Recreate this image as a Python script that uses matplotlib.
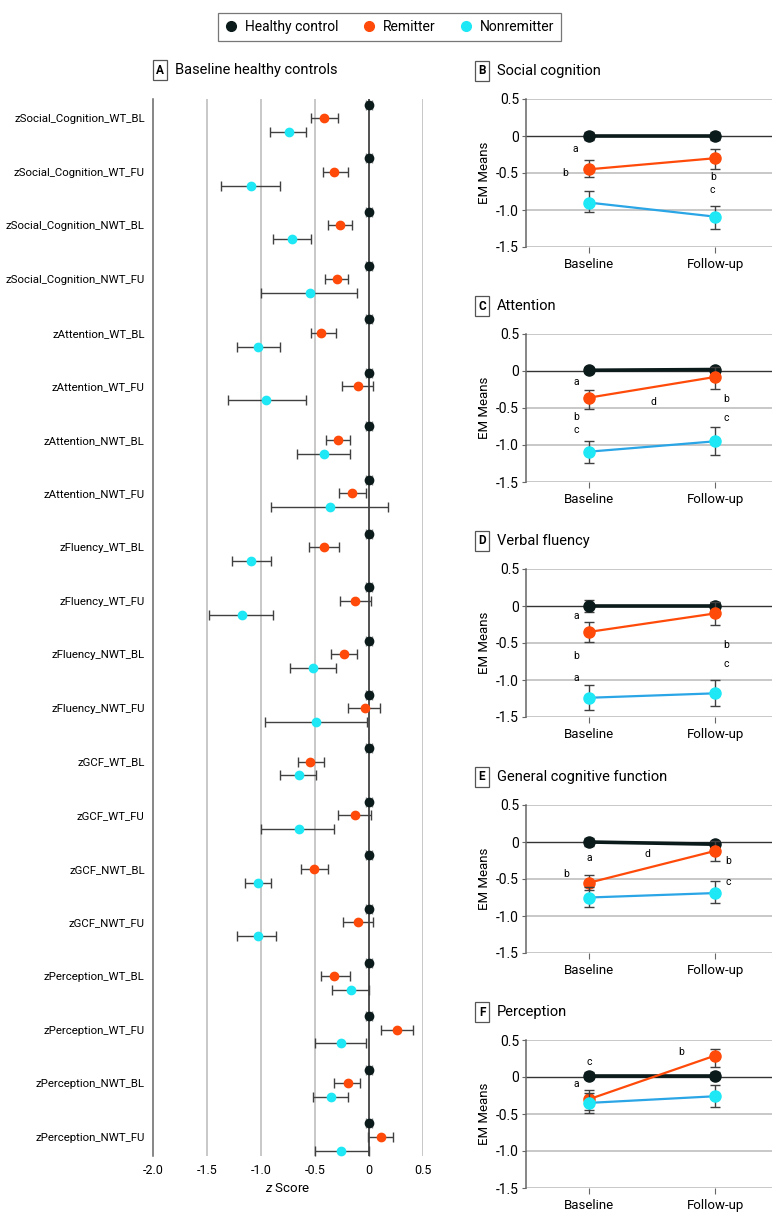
import matplotlib
matplotlib.use("Agg")
import matplotlib.pyplot as plt
from matplotlib.lines import Line2D

plt.rcParams['font.family'] = ['Roboto', 'DejaVu Sans']
plt.rcParams['axes.unicode_minus'] = False
plt.rcParams['mathtext.fontset'] = 'custom'
plt.rcParams['mathtext.rm'] = 'Roboto'
plt.rcParams['mathtext.it'] = 'Roboto:italic'

HC_COL = '#0b1a1a'
REM_COL = '#ff4a0a'
NON_COL = '#1ee8f5'
NON_LINE = '#2aa5e6'
GRID = '#c4c4c4'
ERR = '#404040'

# ---- panel A data: z scores vs healthy controls ----
row_labels = ['zSocial_Cognition_WT_BL', 'zSocial_Cognition_WT_FU', 'zSocial_Cognition_NWT_BL',
              'zSocial_Cognition_NWT_FU', 'zAttention_WT_BL', 'zAttention_WT_FU',
              'zAttention_NWT_BL', 'zAttention_NWT_FU', 'zFluency_WT_BL', 'zFluency_WT_FU',
              'zFluency_NWT_BL', 'zFluency_NWT_FU', 'zGCF_WT_BL', 'zGCF_WT_FU', 'zGCF_NWT_BL',
              'zGCF_NWT_FU', 'zPerception_WT_BL', 'zPerception_WT_FU', 'zPerception_NWT_BL',
              'zPerception_NWT_FU']
hc_mean = [0.0] * 20
hc_err = [0.03] * 20
rem_mean = [-0.42, -0.32, -0.27, -0.30, -0.44, -0.10, -0.29, -0.16, -0.42, -0.13,
            -0.23, -0.04, -0.55, -0.13, -0.51, -0.10, -0.32, 0.26, -0.19, 0.11]
rem_lo = [-0.54, -0.43, -0.38, -0.41, -0.54, -0.25, -0.40, -0.28, -0.56, -0.27,
          -0.35, -0.19, -0.66, -0.29, -0.63, -0.24, -0.44, 0.11, -0.32, -0.01]
rem_hi = [-0.29, -0.19, -0.16, -0.19, -0.31, 0.04, -0.18, -0.03, -0.28, 0.02,
          -0.11, 0.10, -0.42, 0.02, -0.38, 0.04, -0.18, 0.41, -0.08, 0.22]
non_mean = [-0.74, -1.09, -0.71, -0.55, -1.03, -0.95, -0.42, -0.36, -1.09, -1.18,
            -0.52, -0.49, -0.65, -0.65, -1.03, -1.03, -0.17, -0.26, -0.35, -0.26]
non_lo = [-0.92, -1.37, -0.89, -1.00, -1.22, -1.31, -0.67, -0.91, -1.27, -1.48,
          -0.73, -0.96, -0.82, -1.00, -1.15, -1.22, -0.34, -0.50, -0.52, -0.50]
non_hi = [-0.58, -0.82, -0.54, -0.11, -0.82, -0.58, -0.18, 0.18, -0.91, -0.89,
          -0.31, -0.02, -0.49, -0.32, -0.91, -0.86, 0.0, -0.03, -0.19, 0.0]
z_ticks = [-2.0, -1.5, -1.0, -0.5, 0, 0.5]
z_ticklabels = ['-2.0', '-1.5', '-1.0', '-0.5', '0', '0.5']

# ---- panels B-F data: EM means at baseline / follow-up ----
time_labels = ['Baseline', 'Follow-up']
panel_letters = ['B', 'C', 'D', 'E', 'F']
panel_titles = ['Social cognition', 'Attention', 'Verbal fluency',
                'General cognitive function', 'Perception']
hc_em = [[0.0, 0.0], [0.01, 0.02], [0.0, 0.0], [0.0, -0.03], [0.02, 0.02]]
hc_em_err = [[0.06, 0.06], [0.04, 0.04], [0.08, 0.05], [0.05, 0.04], [0.05, 0.05]]
rem_em = [[-0.45, -0.30], [-0.36, -0.08], [-0.35, -0.10], [-0.55, -0.12], [-0.30, 0.29]]
rem_em_lo = [[-0.56, -0.44], [-0.51, -0.24], [-0.49, -0.26], [-0.65, -0.26], [-0.44, 0.14]]
rem_em_hi = [[-0.32, -0.17], [-0.26, 0.05], [-0.22, 0.06], [-0.44, 0.01], [-0.18, 0.38]]
non_em = [[-0.90, -1.09], [-1.09, -0.95], [-1.24, -1.18], [-0.75, -0.69], [-0.35, -0.26]]
non_em_lo = [[-1.03, -1.25], [-1.25, -1.13], [-1.40, -1.35], [-0.88, -0.83], [-0.48, -0.41]]
non_em_hi = [[-0.74, -0.94], [-0.94, -0.76], [-1.07, -1.00], [-0.61, -0.53], [-0.22, -0.11]]
em_ticks = [0.5, 0, -0.5, -1.0, -1.5]
em_ticklabels = ['0.5', '0', '-0.5', '-1.0', '-1.5']
# significance letters (x, y, letter)
sig_marks = [
    [(-0.11, -0.18, 'a'), (-0.19, -0.50, 'b'), (0.98, -0.55, 'b'), (0.98, -0.73, 'c')],
    [(-0.10, -0.15, 'a'), (0.51, -0.42, 'd'), (-0.10, -0.62, 'b'), (-0.10, -0.80, 'c'),
     (1.09, -0.38, 'b'), (1.09, -0.63, 'c')],
    [(-0.10, -0.14, 'a'), (-0.10, -0.68, 'b'), (-0.10, -0.97, 'a'), (1.09, -0.53, 'b'),
     (1.09, -0.78, 'c')],
    [(0.0, -0.22, 'a'), (0.46, -0.16, 'd'), (-0.185, -0.43, 'b'), (1.10, -0.25, 'b'),
     (1.10, -0.54, 'c')],
    [(0.005, 0.20, 'c'), (-0.10, -0.10, 'a'), (0.73, 0.34, 'b')],
]

W, H = 780, 1220
fig = plt.figure(figsize=(W / 100, H / 100), dpi=100)


def px_axes(left, top, right, bottom):
    return fig.add_axes([left / W, 1 - bottom / H, (right - left) / W, (bottom - top) / H])


def boxed_title(x, y, letter, title):
    fig.text(x / W, 1 - y / H, letter, fontsize=8.5, fontweight='bold', ha='center', va='center',
             bbox=dict(boxstyle='square,pad=0.3', fc='white', ec='#555555', lw=0.9))
    fig.text((x + 15) / W, 1 - y / H, title, fontsize=10.5, ha='left', va='center')


# ---------------- panel A ----------------
axA = px_axes(153, 99, 423, 1156)
rows = list(range(len(row_labels)))
axA.set_xlim(-2.0, 0.5)
axA.set_ylim(len(rows) - 1 + 0.36, -0.36)
for g in [-1.5, -1.0, -0.5, 0.5]:
    axA.axvline(g, color=GRID, lw=1.3, zorder=0)
axA.axvline(0, color='#222222', lw=1.1, zorder=1)

y_hc = [r - 0.25 for r in rows]
y_rem = [r for r in rows]
y_non = [r + 0.26 for r in rows]
axA.errorbar(hc_mean, y_hc, xerr=hc_err, fmt='o', color=HC_COL, ms=6, ecolor='#888888',
             elinewidth=1, capsize=3.5, zorder=4)
axA.errorbar(rem_mean, y_rem,
             xerr=[[m - l for m, l in zip(rem_mean, rem_lo)], [h - m for m, h in zip(rem_mean, rem_hi)]],
             fmt='o', color=REM_COL, ms=6, ecolor=ERR, elinewidth=1, capsize=3.5, zorder=4)
axA.errorbar(non_mean, y_non,
             xerr=[[m - l for m, l in zip(non_mean, non_lo)], [h - m for m, h in zip(non_mean, non_hi)]],
             fmt='o', color=NON_COL, ms=6, ecolor=ERR, elinewidth=1, capsize=3.5, zorder=4)

axA.set_yticks(rows)
axA.set_yticklabels(row_labels, fontsize=8.2)
axA.set_xticks(z_ticks)
axA.set_xticklabels(z_ticklabels, fontsize=9)
axA.tick_params(axis='both', length=0, pad=6)
for s in ['top', 'right', 'bottom']:
    axA.spines[s].set_visible(False)
axA.spines['left'].set_color('#666666')
axA.spines['left'].set_linewidth(1.1)
axA.set_xlabel(r'$\mathit{z}$ Score', fontsize=9.5, labelpad=3)

boxed_title(160, 70, 'A', 'Baseline healthy controls')

# ---------------- panels B-F ----------------
title_y = [71, 306, 541, 777, 1012]
x_pos = [0, 1]
for i in range(5):
    ty = title_y[i]
    ax = px_axes(526, ty + 28, 772, ty + 176)
    ax.set_xlim(-0.5, 1.45)
    ax.set_ylim(-1.5, 0.5)
    for g in [0.5, -0.5, -1.0, -1.5]:
        ax.axhline(g, color=GRID, lw=1.3, zorder=0)
    ax.axhline(0, color='#333333', lw=1.0, zorder=0)

    ax.errorbar(x_pos, hc_em[i], yerr=hc_em_err[i], fmt='-o', color=HC_COL, lw=2.6, ms=8,
                ecolor=ERR, elinewidth=1, capsize=3.5, zorder=3)
    ax.errorbar(x_pos, rem_em[i],
                yerr=[[m - l for m, l in zip(rem_em[i], rem_em_lo[i])],
                      [h - m for m, h in zip(rem_em[i], rem_em_hi[i])]],
                fmt='-o', color=REM_COL, lw=1.6, ms=8, ecolor=ERR, elinewidth=1, capsize=3.5, zorder=4)
    ax.errorbar(x_pos, non_em[i],
                yerr=[[m - l for m, l in zip(non_em[i], non_em_lo[i])],
                      [h - m for m, h in zip(non_em[i], non_em_hi[i])]],
                fmt='none', ecolor=ERR, elinewidth=1, capsize=3.5, zorder=5)
    ax.plot(x_pos, non_em[i], '-', color=NON_LINE, lw=1.6, zorder=5)
    ax.plot(x_pos, non_em[i], 'o', color=NON_COL, ms=8, zorder=6)

    for (sx, sy, s) in sig_marks[i]:
        ax.text(sx, sy, s, fontsize=7.5, ha='center', va='center', zorder=7)

    ax.set_yticks(em_ticks)
    ax.set_yticklabels(em_ticklabels, fontsize=10)
    ax.set_xticks(x_pos)
    ax.set_xticklabels(time_labels, fontsize=9.5)
    ax.tick_params(axis='y', length=3, color='#666666', pad=2)
    ax.tick_params(axis='x', length=4, color='#666666', pad=4)
    for s in ['top', 'right', 'bottom']:
        ax.spines[s].set_visible(False)
    ax.spines['left'].set_color('#666666')
    ax.spines['left'].set_linewidth(1.1)
    ax.set_ylabel('EM Means', fontsize=9.5, labelpad=4)

    boxed_title(482, ty, panel_letters[i], panel_titles[i])

# ---------------- legend ----------------
handles = [Line2D([], [], ls='none', marker='o', ms=7, color=HC_COL),
           Line2D([], [], ls='none', marker='o', ms=7, color=REM_COL),
           Line2D([], [], ls='none', marker='o', ms=7, color=NON_COL)]
leg = fig.legend(handles, ['Healthy control', 'Remitter', 'Nonremitter'], ncol=3,
                 loc='center', bbox_to_anchor=(389.5 / W, 1 - 27 / H), fontsize=10,
                 frameon=True, fancybox=False, edgecolor='#555555', handletextpad=0.5,
                 columnspacing=1.7, handlelength=1.0, borderpad=0.5)
leg.get_frame().set_linewidth(0.9)

fig.savefig('out.png', dpi=100)
